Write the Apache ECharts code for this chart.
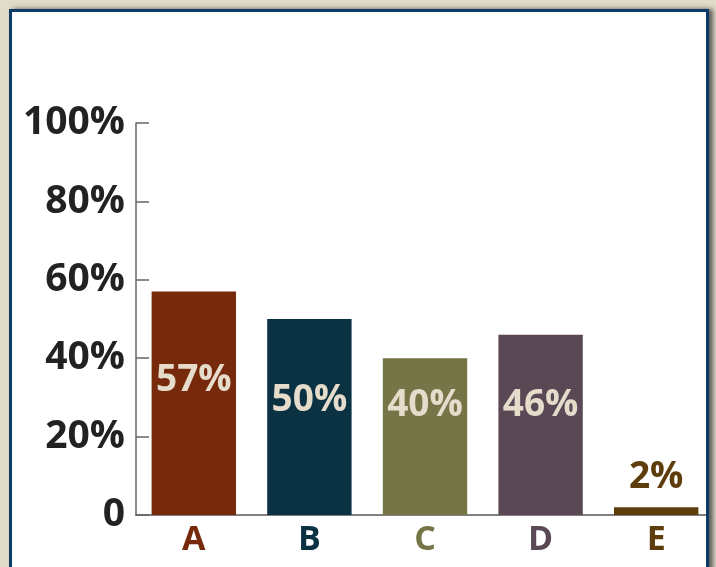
<!DOCTYPE html>
<html>
<head>
<meta charset="utf-8">
<script src="https://cdn.jsdelivr.net/npm/echarts@6/dist/echarts.min.js"></script>
<style>
html,body{margin:0;padding:0;width:716px;height:567px;overflow:hidden;background:#e1dbc9;}
#panel{position:absolute;left:9px;top:9px;width:700px;height:606px;background:#fff;}
#frame{position:absolute;left:9px;top:9px;width:694px;height:600px;border:3px solid #0e3a69;box-shadow:4px 0 5px #5a5a5a;pointer-events:none;z-index:5;}
#cover{position:absolute;left:709px;top:0;width:7px;height:567px;background:#e1dbc9;z-index:4;}
#chart{position:absolute;left:0;top:0;width:716px;height:567px;z-index:2;}
</style>
</head>
<body>
<div id="panel"></div>
<div id="chart"></div>
<div id="cover"></div>
<div id="frame"></div>
<script>
const categories = ['A', 'B', 'C', 'D', 'E'];
const values = [57, 50, 40, 46, 2];
const yTicks = [0, 20, 40, 60, 80, 100];
const barColors = ['#772a0b', '#0b3243', '#767547', '#5a4954', '#5c3d0b'];
const labelOffsets = [-23, -17, -31, -19, 0];

const chart = echarts.init(document.getElementById('chart'), null, {renderer: 'canvas'});
const FONT = '"Open Sans", "Liberation Sans", sans-serif';
chart.setOption({
  backgroundColor: 'transparent',
  animation: false,
  grid: {left: 136, right: 2, top: 123, bottom: 52, containLabel: false},
  xAxis: {
    type: 'category',
    data: categories,
    axisLine: {lineStyle: {color: '#555', width: 1.5}},
    axisTick: {inside: true, length: 9, lineStyle: {color: '#555', width: 1.5}},
    axisLabel: {
      margin: 8,
      fontFamily: FONT,
      fontWeight: 'bold',
      fontSize: 34,
      color: function (v, i) { return barColors[categories.indexOf(v)]; }
    }
  },
  yAxis: {
    type: 'value',
    min: 0, max: 100, interval: 20,
    splitLine: {show: false},
    axisLine: {show: true, lineStyle: {color: '#666', width: 1.5}},
    axisTick: {show: true, inside: true, length: 13, lineStyle: {color: '#666', width: 1.5}},
    axisLabel: {
      margin: 11,
      fontFamily: FONT,
      fontWeight: 'bold',
      fontSize: 39,
      color: '#222',
      formatter: function (v) { return v === 0 ? '0' : v + '%'; }
    }
  },
  series: [{
    type: 'bar',
    barCategoryGap: '27%',
    data: values.map(function (v, i) {
      const isSmall = v < 10;
      return {
        value: v,
        itemStyle: {color: barColors[i]},
        label: {
          show: true,
          position: isSmall ? 'top' : 'inside',
          distance: isSmall ? 11 : 5,
          offset: [0, labelOffsets[i]],
          color: isSmall ? '#5c3d0b' : '#e6dccb',
          fontFamily: FONT,
          fontWeight: 'bold',
          fontSize: 37,
          formatter: '{c}%'
        }
      };
    })
  }]
});
</script>
</body>
</html>
